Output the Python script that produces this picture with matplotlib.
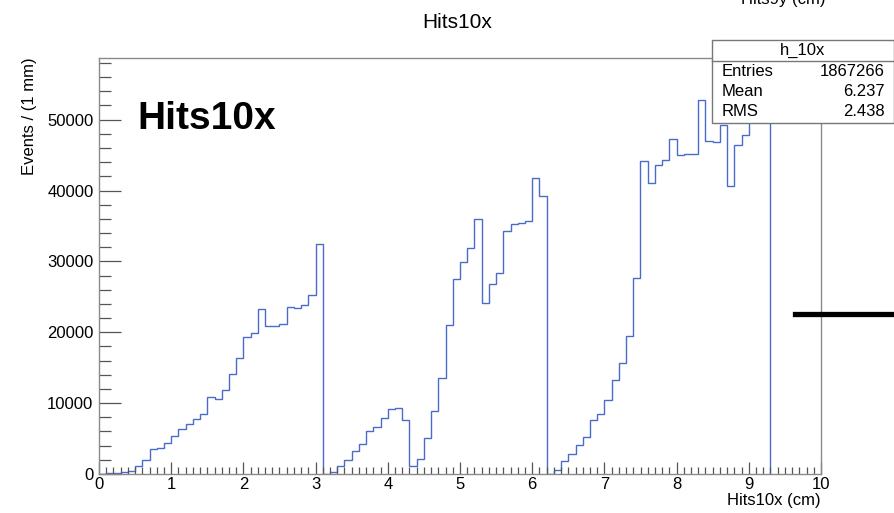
import numpy as np
import matplotlib
matplotlib.use("Agg")
import matplotlib.pyplot as plt
from matplotlib.patches import Rectangle
from matplotlib.lines import Line2D
from matplotlib.ticker import MultipleLocator

plt.rcParams['font.family'] = ['Liberation Sans', 'DejaVu Sans']

# Bin contents of h_10x, bins of 1 mm from 0 to 9.3 cm
counts = [0, 100, 150, 250, 400, 1100, 2000, 3500, 3700, 4400,
          5400, 6300, 7000, 7700, 8500, 10900, 10600, 11900, 14150, 16400,
          19400, 19950, 23350, 20850, 20950, 21100, 23600, 23450, 23900, 25300,
          32400, 50, 300, 1100, 2000, 3300, 4250, 6050, 6600, 7900,
          9200, 9350, 7650, 1130, 2100, 5050, 8950, 13600, 21000, 27450,
          29950, 31850, 35950, 24150, 26750, 28300, 34350, 35250, 35450, 35700,
          41750, 39200, 50, 570, 1890, 2830, 4150, 5200, 7550, 8400,
          10400, 13200, 15650, 19450, 27600, 44100, 41050, 43550, 44350, 47250,
          45050, 45100, 45150, 52750, 47050, 46900, 49250, 40600, 46450, 47850,
          51500, 54000, 55900]
x_min, x_max = 0.0, 9.3
edges = np.linspace(x_min, x_max, len(counts) + 1)

hist_name = "h_10x"
stats_labels = ["Entries", "Mean", "RMS"]
stats_values = ["1867266", "6.237", "2.438"]

W, H = 895, 513
fig = plt.figure(figsize=(W / 100, H / 100), dpi=100)
ax = fig.add_axes([99 / W, 1 - 474 / H, 722 / W, 416 / H])

ax.stairs(counts, edges, baseline=0, color='#4a6bc9', linewidth=1.0)
ax.set_xlim(0, 10)
ax.set_ylim(0, max(counts) * 1.05)

# ROOT-like frame and ticks
for s in ax.spines.values():
    s.set_color('#8a8a8a')
    s.set_linewidth(1.0)
ax.xaxis.set_major_locator(MultipleLocator(1))
ax.xaxis.set_minor_locator(MultipleLocator(0.1))
ax.yaxis.set_major_locator(MultipleLocator(10000))
ax.yaxis.set_minor_locator(MultipleLocator(2000))
ax.tick_params(axis='x', which='major', direction='in', length=8.6, width=0.9,
               color='#555555', labelsize=12, pad=2)
ax.tick_params(axis='x', which='minor', direction='in', length=5, width=0.9, color='#555555')
ax.tick_params(axis='y', which='major', direction='in', length=15.8, width=0.9,
               color='#555555', labelsize=12, pad=4)
ax.tick_params(axis='y', which='minor', direction='in', length=8.6, width=0.9, color='#555555')

fig.text(457 / W, 1 - 22 / H, "Hits10x", ha='center', va='center', fontsize=15)
fig.text(821 / W, 1 - 500 / H, "Hits10x (cm)", ha='right', va='center', fontsize=12)
fig.text(30 / W, 1 - 57 / H, "Events / (1 mm)", ha='center', va='top',
         rotation=90, fontsize=12)
ax.text(0.053, 0.853, "Hits10x", transform=ax.transAxes, fontsize=28,
        fontweight='bold', ha='left', va='center')

# leftover title from a neighbouring pad, cut by the top edge
fig.text(783 / W, 1 - 4 / H, "Hits9y (cm)", ha='center', va='baseline', fontsize=12)

# stats box
bx0, bx1, by0, by1 = 712, 894, 40, 123
fig.add_artist(Rectangle((bx0 / W, 1 - by1 / H), (bx1 - bx0) / W, (by1 - by0) / H,
                         transform=fig.transFigure, facecolor='white',
                         edgecolor='#777777', linewidth=1.0))
fig.add_artist(Line2D([bx0 / W, bx1 / W], [1 - 61 / H, 1 - 61 / H],
                      transform=fig.transFigure, color='#777777', linewidth=1.0))
fig.text((bx0 + bx1) / 2 / W, 1 - 50 / H, hist_name, ha='center', va='center', fontsize=12)
for i, (lab, val) in enumerate(zip(stats_labels, stats_values)):
    yy = 1 - (72 + 20 * i) / H
    fig.text(722 / W, yy, lab, ha='left', va='center', fontsize=12)
    fig.text(885 / W, yy, val, ha='right', va='center', fontsize=12)

# thick black marker at right edge
fig.add_artist(Line2D([795 / W, 1.0], [1 - 314 / H, 1 - 314 / H],
                      transform=fig.transFigure, color='black', linewidth=3.8))

fig.savefig("out.png", dpi=100)
